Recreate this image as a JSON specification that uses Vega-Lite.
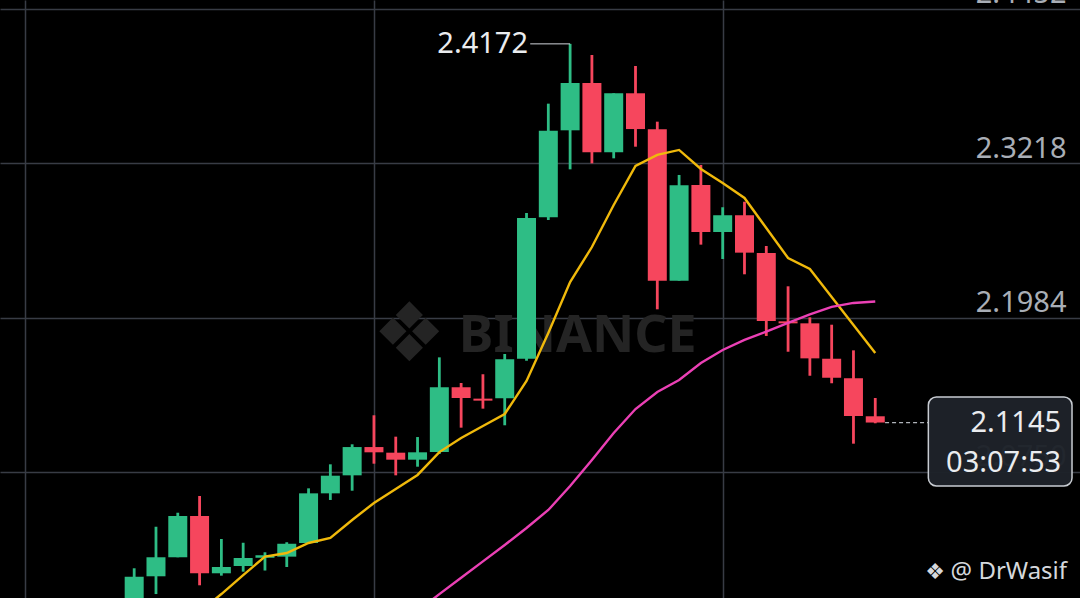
{
  "$schema": "https://vega.github.io/schema/vega-lite/v6.json",
  "width": 1080,
  "height": 598,
  "autosize": "none",
  "padding": 0,
  "background": "#000000",
  "config": {"view": {"stroke": null}, "font": "Noto Sans"},
  "resolve": {"axis": {"x": "independent", "y": "independent"}},
  "datasets": {
    "candles": [
      {"k": 0, "o": 1.9550, "h": 1.9980, "l": 1.9450, "c": 1.9913},
      {"k": 1, "o": 1.9916, "h": 2.0312, "l": 1.9774, "c": 2.0068},
      {"k": 2, "o": 2.0068, "h": 2.0424, "l": 2.0068, "c": 2.0398},
      {"k": 3, "o": 2.0398, "h": 2.0558, "l": 1.9844, "c": 1.9940},
      {"k": 4, "o": 1.9940, "h": 2.0214, "l": 1.9921, "c": 1.9990},
      {"k": 5, "o": 1.9998, "h": 2.0184, "l": 1.9953, "c": 2.0062},
      {"k": 6, "o": 2.0065, "h": 2.0108, "l": 1.9962, "c": 2.0084},
      {"k": 7, "o": 2.0073, "h": 2.0188, "l": 1.9990, "c": 2.0176},
      {"k": 8, "o": 2.0182, "h": 2.0619, "l": 2.0180, "c": 2.0579},
      {"k": 9, "o": 2.0579, "h": 2.0811, "l": 2.0526, "c": 2.0720},
      {"k": 10, "o": 2.0723, "h": 2.0971, "l": 2.0600, "c": 2.0949},
      {"k": 11, "o": 2.0949, "h": 2.1203, "l": 2.0816, "c": 2.0907},
      {"k": 12, "o": 2.0904, "h": 2.1032, "l": 2.0723, "c": 2.0848},
      {"k": 13, "o": 2.0848, "h": 2.1029, "l": 2.0792, "c": 2.0907},
      {"k": 14, "o": 2.0909, "h": 2.1666, "l": 2.0894, "c": 2.1427},
      {"k": 15, "o": 2.1427, "h": 2.1461, "l": 2.1104, "c": 2.1341},
      {"k": 16, "o": 2.1336, "h": 2.1531, "l": 2.1256, "c": 2.1320},
      {"k": 17, "o": 2.1340, "h": 2.1693, "l": 2.1123, "c": 2.1651},
      {"k": 18, "o": 2.1655, "h": 2.2820, "l": 2.1639, "c": 2.2780},
      {"k": 19, "o": 2.2786, "h": 2.3694, "l": 2.2764, "c": 2.3478},
      {"k": 20, "o": 2.3481, "h": 2.4172, "l": 2.3169, "c": 2.3859},
      {"k": 21, "o": 2.3859, "h": 2.4083, "l": 2.3217, "c": 2.3305},
      {"k": 22, "o": 2.3305, "h": 2.3777, "l": 2.3257, "c": 2.3777},
      {"k": 23, "o": 2.3777, "h": 2.3995, "l": 2.3350, "c": 2.3491},
      {"k": 24, "o": 2.3489, "h": 2.3550, "l": 2.2050, "c": 2.2279},
      {"k": 25, "o": 2.2279, "h": 2.3124, "l": 2.2279, "c": 2.3041},
      {"k": 26, "o": 2.3044, "h": 2.3204, "l": 2.2567, "c": 2.2668},
      {"k": 27, "o": 2.2668, "h": 2.2866, "l": 2.2452, "c": 2.2802},
      {"k": 28, "o": 2.2802, "h": 2.2910, "l": 2.2330, "c": 2.2503},
      {"k": 29, "o": 2.2500, "h": 2.2556, "l": 2.1837, "c": 2.1957},
      {"k": 30, "o": 2.1954, "h": 2.2234, "l": 2.1711, "c": 2.1938},
      {"k": 31, "o": 2.1938, "h": 2.1986, "l": 2.1519, "c": 2.1658},
      {"k": 32, "o": 2.1655, "h": 2.1927, "l": 2.1459, "c": 2.1503},
      {"k": 33, "o": 2.1499, "h": 2.1722, "l": 2.0976, "c": 2.1197},
      {"k": 34, "o": 2.1195, "h": 2.1341, "l": 2.1139, "c": 2.1145}
    ],
    "ma": [
      {"k": 3, "v": 1.9631, "s": "MA7"},
      {"k": 4, "v": 1.9774, "s": "MA7"},
      {"k": 5, "v": 1.9926, "s": "MA7"},
      {"k": 6, "v": 2.0073, "s": "MA7"},
      {"k": 7, "v": 2.0102, "s": "MA7"},
      {"k": 8, "v": 2.0182, "s": "MA7"},
      {"k": 9, "v": 2.0222, "s": "MA7"},
      {"k": 10, "v": 2.0366, "s": "MA7"},
      {"k": 11, "v": 2.0502, "s": "MA7"},
      {"k": 12, "v": 2.0614, "s": "MA7"},
      {"k": 13, "v": 2.0726, "s": "MA7"},
      {"k": 14, "v": 2.0909, "s": "MA7"},
      {"k": 15, "v": 2.1021, "s": "MA7"},
      {"k": 16, "v": 2.1117, "s": "MA7"},
      {"k": 17, "v": 2.1213, "s": "MA7"},
      {"k": 18, "v": 2.1477, "s": "MA7"},
      {"k": 19, "v": 2.1861, "s": "MA7"},
      {"k": 20, "v": 2.2268, "s": "MA7"},
      {"k": 21, "v": 2.2548, "s": "MA7"},
      {"k": 22, "v": 2.2884, "s": "MA7"},
      {"k": 23, "v": 2.3196, "s": "MA7"},
      {"k": 24, "v": 2.3284, "s": "MA7"},
      {"k": 25, "v": 2.3324, "s": "MA7"},
      {"k": 26, "v": 2.3172, "s": "MA7"},
      {"k": 27, "v": 2.3060, "s": "MA7"},
      {"k": 28, "v": 2.2940, "s": "MA7"},
      {"k": 29, "v": 2.2700, "s": "MA7"},
      {"k": 30, "v": 2.2460, "s": "MA7"},
      {"k": 31, "v": 2.2372, "s": "MA7"},
      {"k": 32, "v": 2.2149, "s": "MA7"},
      {"k": 33, "v": 2.1925, "s": "MA7"},
      {"k": 34, "v": 2.1701, "s": "MA7"},
      {"k": 13, "v": 1.9639, "s": "MA25"},
      {"k": 14, "v": 1.9773, "s": "MA25"},
      {"k": 15, "v": 1.9904, "s": "MA25"},
      {"k": 16, "v": 2.0035, "s": "MA25"},
      {"k": 17, "v": 2.0166, "s": "MA25"},
      {"k": 18, "v": 2.0302, "s": "MA25"},
      {"k": 19, "v": 2.0446, "s": "MA25"},
      {"k": 20, "v": 2.0638, "s": "MA25"},
      {"k": 21, "v": 2.0846, "s": "MA25"},
      {"k": 22, "v": 2.1061, "s": "MA25"},
      {"k": 23, "v": 2.1253, "s": "MA25"},
      {"k": 24, "v": 2.1389, "s": "MA25"},
      {"k": 25, "v": 2.1485, "s": "MA25"},
      {"k": 26, "v": 2.1621, "s": "MA25"},
      {"k": 27, "v": 2.1725, "s": "MA25"},
      {"k": 28, "v": 2.1805, "s": "MA25"},
      {"k": 29, "v": 2.1872, "s": "MA25"},
      {"k": 30, "v": 2.1941, "s": "MA25"},
      {"k": 31, "v": 2.2009, "s": "MA25"},
      {"k": 32, "v": 2.2069, "s": "MA25"},
      {"k": 33, "v": 2.2101, "s": "MA25"},
      {"k": 34, "v": 2.2113, "s": "MA25"}
    ]
  },
  "layer": [
    {
      "data": {"name": "candles"},
      "mark": {"type": "rule", "strokeWidth": 2.6, "opacity": 0},
      "encoding": {
        "x": {"field": "k", "type": "quantitative",
          "scale": {"domain": [-5.927, 43.164], "nice": false, "zero": false},
          "axis": {"values": [-5, 11, 27], "labels": false, "ticks": false, "domain": false, "title": null, "grid": true, "gridColor": "#383c45", "gridWidth": 1.5}},
        "y": {"field": "l", "type": "quantitative",
          "scale": {"domain": [1.97424, 2.45226], "nice": false, "zero": false},
          "axis": {"orient": "right", "offset": -14, "values": [2.075, 2.1984, 2.3218, 2.4452], "format": ".4f", "title": null, "domain": false, "ticks": false, "tickSize": 0, "labelPadding": 0, "labelAlign": "right", "labelBaseline": "middle", "labelOffset": -15, "labelFontSize": 29, "labelColor": "#a9aeb6", "labelFont": "Noto Sans", "grid": true, "gridColor": "#383c45", "gridWidth": 1.5}},
        "y2": {"field": "h"}
      }
    },
    {
      "data": {"values": [{}]},
      "mark": {"type": "text", "text": "❖", "font": "DejaVu Sans", "fontSize": 82, "color": "#242424", "align": "center", "baseline": "middle"},
      "encoding": {
        "x": {"datum": 12.62, "type": "quantitative", "axis": null},
        "y": {"datum": 2.1837, "type": "quantitative", "axis": null}
      }
    },
    {
      "data": {"values": [{}]},
      "mark": {"type": "text", "text": "BINANCE", "font": "Noto Sans", "fontWeight": "bold", "fontSize": 52, "color": "#242424", "align": "center", "baseline": "middle"},
      "encoding": {
        "x": {"datum": 20.35, "type": "quantitative", "axis": null},
        "y": {"datum": 2.1837, "type": "quantitative", "axis": null}
      }
    },
    {
      "data": {"name": "candles"},
      "mark": {"type": "rule", "strokeWidth": 2.8},
      "encoding": {
        "x": {"field": "k", "type": "quantitative", "axis": null},
        "y": {"field": "l", "type": "quantitative", "axis": null},
        "y2": {"field": "h"},
        "color": {"condition": {"test": "datum.c >= datum.o", "value": "#2ebd85"}, "value": "#f6465d"}
      }
    },
    {
      "data": {"name": "candles"},
      "mark": {"type": "bar", "size": 19},
      "encoding": {
        "x": {"field": "k", "type": "quantitative", "axis": null},
        "y": {"field": "o", "type": "quantitative", "axis": null},
        "y2": {"field": "c"},
        "color": {"condition": {"test": "datum.c >= datum.o", "value": "#2ebd85"}, "value": "#f6465d"}
      }
    },
    {
      "data": {"name": "ma"},
      "mark": {"type": "line", "strokeWidth": 2.4, "clip": true},
      "encoding": {
        "x": {"field": "k", "type": "quantitative", "axis": null},
        "y": {"field": "v", "type": "quantitative", "axis": null},
        "color": {"field": "s", "type": "nominal", "scale": {"domain": ["MA7", "MA25"], "range": ["#f0b90b", "#eb40b5"]}, "legend": null}
      }
    },
    {
      "data": {"values": [{}]},
      "mark": {"type": "rule", "color": "#d0d4da", "strokeWidth": 1},
      "encoding": {
        "x": {"datum": 18.17, "type": "quantitative", "axis": null},
        "x2": {"datum": 20.0},
        "y": {"datum": 2.4172, "type": "quantitative", "axis": null}
      }
    },
    {
      "data": {"values": [{}]},
      "mark": {"type": "text", "text": "2.4172", "font": "Noto Sans", "fontSize": 29, "color": "#eaecef", "align": "right", "baseline": "middle"},
      "encoding": {
        "x": {"datum": 18.07, "type": "quantitative", "axis": null},
        "y": {"datum": 2.4172, "type": "quantitative", "axis": null}
      }
    },
    {
      "data": {"values": [{}]},
      "mark": {"type": "rule", "color": "#b0b4ba", "strokeWidth": 1.2, "strokeDash": [4, 3]},
      "encoding": {
        "x": {"datum": 34.45, "type": "quantitative", "axis": null},
        "x2": {"datum": 36.44},
        "y": {"datum": 2.1145, "type": "quantitative", "axis": null}
      }
    },
    {
      "data": {"values": [{}]},
      "mark": {"type": "rect", "fill": "#1e2229", "fillOpacity": 0.97, "stroke": "#c8ccd2", "strokeWidth": 1.5, "cornerRadius": 8},
      "encoding": {
        "x": {"datum": 36.436, "type": "quantitative", "axis": null},
        "x2": {"datum": 43.027},
        "y": {"datum": 2.13491, "type": "quantitative", "axis": null},
        "y2": {"datum": 2.06377}
      }
    },
    {
      "data": {"values": [{}]},
      "mark": {"type": "text", "text": "2.1145", "font": "Noto Sans", "fontSize": 29, "color": "#eaecef", "align": "right", "baseline": "middle"},
      "encoding": {
        "x": {"datum": 42.527, "type": "quantitative", "axis": null},
        "y": {"datum": 2.1145, "type": "quantitative", "axis": null}
      }
    },
    {
      "data": {"values": [{}]},
      "mark": {"type": "text", "text": "03:07:53", "font": "Noto Sans", "fontSize": 29, "color": "#eaecef", "align": "right", "baseline": "middle"},
      "encoding": {
        "x": {"datum": 42.527, "type": "quantitative", "axis": null},
        "y": {"datum": 2.0822, "type": "quantitative", "axis": null}
      }
    },
    {
      "data": {"values": [{}]},
      "mark": {"type": "text", "text": "@ DrWasif", "font": "Noto Sans", "fontSize": 24, "color": "#d5d8dc", "align": "right", "baseline": "middle"},
      "encoding": {
        "x": {"datum": 42.8, "type": "quantitative", "axis": null},
        "y": {"datum": 1.995, "type": "quantitative", "axis": null}
      }
    },
    {
      "data": {"values": [{}]},
      "mark": {"type": "text", "text": "❖", "font": "DejaVu Sans", "fontSize": 22, "color": "#d5d8dc", "align": "center", "baseline": "middle"},
      "encoding": {
        "x": {"datum": 36.75, "type": "quantitative", "axis": null},
        "y": {"datum": 1.995, "type": "quantitative", "axis": null}
      }
    }
  ]
}
